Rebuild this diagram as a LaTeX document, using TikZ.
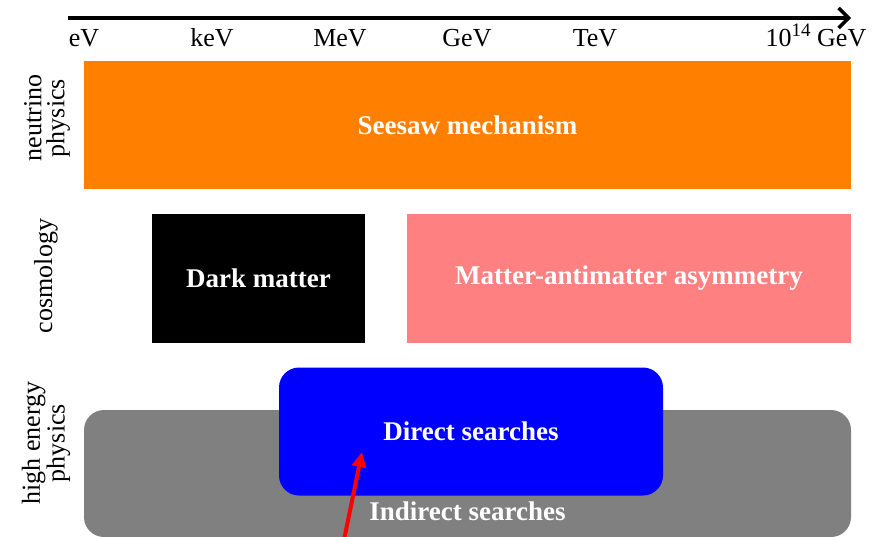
\documentclass[tikz,border=0pt]{standalone}
\usepackage{fontspec}
\setmainfont{Liberation Serif}
\usepackage{xcolor}
\definecolor{neutrinoc}{HTML}{FF8000}
\definecolor{asymc}{HTML}{FF8080}
\definecolor{directc}{HTML}{0000FF}
\definecolor{indirectc}{HTML}{808080}
\usepackage{tikz}
\usetikzlibrary{arrows.meta,positioning}

\begin{document}
\begin{tikzpicture}[x=1pt,y=-1pt,every node/.style={font=\fontsize{26}{23}\selectfont}]
\tikzstyle{box}=[inner sep=0pt,text=white,font=\fontsize{27}{30}\selectfont\bfseries]
\tikzstyle{rbox}=[box,rounded corners=20pt]
\tikzstyle{field}=[rotate=90,align=center,inner sep=0pt]
\useasboundingbox (0,0) rectangle (879,536);
% energy axis
\coordinate (axl) at (68,18);
\coordinate (axr) at (851,18);
\draw[line width=4pt,-{Straight Barb[length=10pt,width=20pt,line width=3.5pt]}] (axl)--(axr);
\foreach \x/\t [count=\i] in {84/eV,212/keV,340/MeV,467/GeV,595/TeV,816/{10\raisebox{10pt}{\fontsize{19}{20}\selectfont 14} GeV}}
  \node[anchor=base,inner sep=0pt] (tick\i) at (\x,46) {\t};
% rows
\node[field] (nulbl) at (47,118) {neutrino\\physics};
\node[field] (coslbl) at (46,276) {cosmology};
\node[field] (heplbl) at (46,443) {high energy\\physics};
\node[box,fill=neutrinoc,minimum width=767pt,minimum height=128pt] (seesaw) at (467.5,125) {Seesaw mechanism};
\node[box,fill=black,minimum width=213pt,minimum height=129pt] (dm) at (258.5,278.5) {Dark matter};
\node[box,fill=asymc,minimum width=444pt,minimum height=129pt] (bau) at (629,278.5) {Matter-antimatter asymmetry};
\node[rbox,fill=indirectc,minimum width=767pt,minimum height=127pt] (indirect) at (467.5,473.5) {};
\node[rbox,fill=directc,minimum width=384pt,minimum height=128pt] (direct) at (471,431.5) {Direct searches};
\node[box] (indlbl) at (467.5,511) {Indirect searches};
% pointer
\coordinate (src) at (343,545);
\coordinate (tip) at (362,452);
\draw[red,line width=4pt,-{Triangle[length=15pt,width=14pt]}] (src)--(tip);
\end{tikzpicture}
\end{document}
